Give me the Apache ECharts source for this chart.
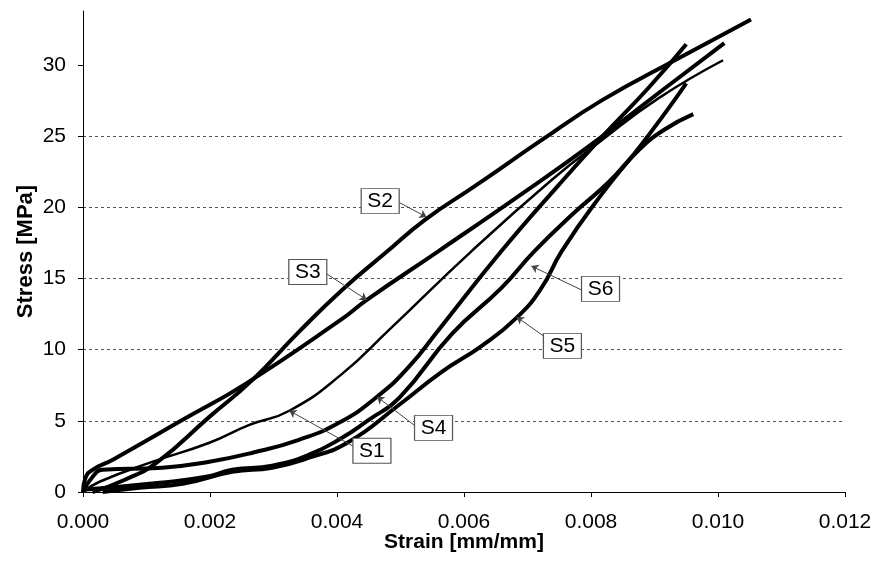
<!DOCTYPE html>
<html>
<head>
<meta charset="utf-8">
<script src="https://cdn.jsdelivr.net/npm/echarts@6/dist/echarts.min.js"></script>
<style>
  html, body { margin: 0; padding: 0; background: #fff; }
  #main { width: 875px; height: 579px; }
</style>
</head>
<body>
<div id="main"></div>
<script>
// strain [mm/mm], stress [MPa]
const s1Strain = [0, 0.00026, 0.00110, 0.00199, 0.00262, 0.00325, 0.00408, 0.00482, 0.00612, 0.00738, 0.00817, 0.00906, 0.01008];
const s1Stress = [0, 0.72, 2.13, 3.46, 4.72, 5.71, 8.30, 11.39, 16.93, 21.92, 24.72, 27.66, 30.34];

const s2Strain = [0.00015, 0.00066, 0.00116, 0.00199, 0.00267, 0.00340, 0.00408, 0.00476, 0.00538, 0.00617, 0.00722, 0.00817, 0.00938, 0.01052];
const s2Stress = [0, 0.86, 2.06, 5.28, 7.88, 11.25, 14.20, 16.79, 19.11, 21.49, 24.72, 27.52, 30.48, 33.21];

const s3Strain = [0, 0.00004, 0.00015, 0.00047, 0.00157, 0.00256, 0.00408, 0.00447, 0.00560, 0.00686, 0.00799, 0.00906, 0.01010];
const s3Stress = [0, 1.00, 1.56, 2.27, 5.07, 7.60, 12.16, 13.50, 16.93, 20.79, 24.37, 28.02, 31.54];

const s4Strain = [0, 0.00014, 0.00031, 0.00125, 0.00199, 0.00267, 0.00340, 0.00403, 0.00463, 0.00513, 0.00560, 0.00659, 0.00749, 0.00817, 0.00890, 0.00950];
const s4Stress = [0, 1.00, 1.56, 1.71, 2.13, 2.76, 3.67, 4.86, 6.69, 8.79, 11.39, 16.93, 21.56, 24.93, 28.37, 31.46];

const s5Strain = [0.00031, 0.00089, 0.00157, 0.00235, 0.00298, 0.00356, 0.00419, 0.00498, 0.00565, 0.00628, 0.00683, 0.00722, 0.00754, 0.00817, 0.00875, 0.00914, 0.00950];
const s5Stress = [0, 0.30, 0.58, 1.42, 1.71, 2.41, 3.53, 6.13, 8.44, 10.27, 12.25, 14.34, 16.93, 20.93, 24.16, 26.47, 28.72];

const s6Strain = [0, 0.00121, 0.00194, 0.00235, 0.00298, 0.00356, 0.00408, 0.00450, 0.00498, 0.00581, 0.00659, 0.00711, 0.00773, 0.00828, 0.00875, 0.00914, 0.00961];
const s6Stress = [0.16, 0.65, 1.07, 1.56, 1.85, 2.62, 3.81, 5.07, 6.62, 11.11, 14.34, 16.93, 19.60, 21.78, 24.02, 25.42, 26.55];

// callout boxes and arrows (data coords)
const tagNames = ['S1', 'S2', 'S3', 'S4', 'S5', 'S6'];
const tagBox = [[0.00455, 2.90], [0.00468, 20.44], [0.00354, 15.46], [0.00552, 4.51], [0.00755, 10.27], [0.00815, 14.27]];
const arrowFrom = [[0.00427, 3.18], [0.00497, 20.37], [0.00384, 15.32], [0.00523, 4.65], [0.00725, 10.97], [0.00785, 14.20]];
const arrowTo = [[0.00325, 5.71], [0.00541, 19.32], [0.00447, 13.50], [0.00463, 6.69], [0.00683, 12.30], [0.00706, 15.88]];

const yTicks = [0, 5, 10, 15, 20, 25, 30];

function pairs(xs, ys) {
  return xs.map((x, i) => [x, ys[i]]);
}

function curve(name, xs, ys, w) {
  return {
    name: name,
    type: 'line',
    data: pairs(xs, ys),
    showSymbol: false,
    smooth: 0.5,
    lineStyle: { color: '#000', width: w },
    z: 3,
    silent: true
  };
}

let chart = echarts.init(document.getElementById('main'));

chart.setOption({
  animation: false,
  backgroundColor: '#fff',
  grid: { left: 83, right: 30, top: 11, bottom: 87 },
  xAxis: {
    type: 'value',
    min: 0,
    max: 0.012,
    interval: 0.002,
    name: 'Strain [mm/mm]',
    nameLocation: 'middle',
    nameGap: 40,
    nameMoveOverlap: false,
    nameTextStyle: { fontFamily: 'Liberation Sans', fontSize: 21, fontWeight: 'bold', color: '#000' },
    axisLine: { lineStyle: { color: '#000', width: 1 } },
    axisTick: { length: 5, lineStyle: { color: '#000' } },
    axisLabel: {
      fontFamily: 'Liberation Sans', fontSize: 21, color: '#000', margin: 20,
      formatter: v => v.toFixed(3)
    },
    splitLine: { show: false }
  },
  yAxis: {
    type: 'value',
    min: 0,
    max: 33.8,
    interval: 5,
    name: 'Stress [MPa]',
    nameLocation: 'middle',
    nameGap: 46,
    nameMoveOverlap: false,
    nameTextStyle: { fontFamily: 'Liberation Sans', fontSize: 22, fontWeight: 'bold', color: '#000' },
    axisLine: { show: true, lineStyle: { color: '#000', width: 1 } },
    axisTick: { show: true, length: 5, customValues: yTicks, lineStyle: { color: '#000' } },
    axisLabel: {
      fontFamily: 'Liberation Sans', fontSize: 21, color: '#000', margin: 17,
      customValues: yTicks,
      formatter: v => (v % 5 === 0 ? String(v) : '')
    },
    splitLine: {
      show: true,
      showMinLine: false,
      showMaxLine: false,
      lineStyle: { color: '#555', type: [3, 3], width: 1 }
    }
  },
  series: [
    curve('S1', s1Strain, s1Stress, 2.5),
    curve('S2', s2Strain, s2Stress, 4),
    curve('S3', s3Strain, s3Stress, 4),
    curve('S4', s4Strain, s4Stress, 4),
    curve('S5', s5Strain, s5Stress, 4),
    curve('S6', s6Strain, s6Stress, 4),
    {
      type: 'lines',
      coordinateSystem: 'cartesian2d',
      silent: true,
      z: 4,
      symbol: ['none', 'arrow'],
      symbolSize: 7,
      lineStyle: { color: '#444', width: 1, opacity: 1 },
      data: arrowFrom.map((p, i) => ({ coords: [p, arrowTo[i]] }))
    },
    {
      type: 'scatter',
      silent: true,
      z: 5,
      symbol: 'rect',
      symbolSize: [38, 25],
      itemStyle: { color: '#fff', borderColor: '#555', borderWidth: 1, opacity: 1 },
      label: {
        show: true,
        position: 'inside',
        fontFamily: 'Liberation Sans',
        fontSize: 21,
        color: '#000',
        formatter: p => p.name
      },
      data: tagBox.map((p, i) => ({ name: tagNames[i], value: p }))
    }
  ]
});
</script>
</body>
</html>
